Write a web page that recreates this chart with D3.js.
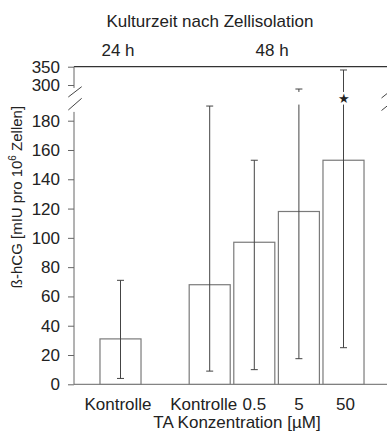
<!DOCTYPE html>
<html>
<head>
<meta charset="utf-8">
<script src="https://cdn.jsdelivr.net/npm/d3@7/dist/d3.min.js"></script>
<style>
  body { margin: 0; background: #fff; }
  svg { display: block; }
  text { font-family: "Liberation Sans", Arial, sans-serif; fill: #222; }
</style>
</head>
<body>
<svg id="chart" width="387" height="439"></svg>
<script>
// ---- data ----
const slotIds = ["24h-Kontrolle", "_gap", "48h-Kontrolle", "48h-0.5", "48h-5", "48h-50"];
const barIds = ["24h-Kontrolle", "48h-Kontrolle", "48h-0.5", "48h-5", "48h-50"];
const barLabels = ["Kontrolle", "Kontrolle", "0.5", "5", "50"];
const barGroups = ["24 h", "48 h", "48 h", "48 h", "48 h"];
const means = [31, 68, 97, 118, 153];
const errLow = [4, 9, 10, 17.5, 25];
const errHigh = [71, 190, 153, 289, 341];
const significant = [false, false, false, false, true];
const groupNames = ["24 h", "48 h"];
const lowerTicks = [0, 20, 40, 60, 80, 100, 120, 140, 160, 180];
const upperTicks = [300, 350];
const title = "Kulturzeit nach Zellisolation";
const xTitle = "TA Konzentration [µM]";

// ---- layout ----
const svg = d3.select("#chart");
const axisX = 74;
const lowerBreak = 191;   // top of lower segment (value)
const upperBreak = 281;   // bottom of upper segment (value)
const fs = "17px";

const x = d3.scaleBand().domain(slotIds).range([98.2, 365.8])
  .paddingInner(0.08).paddingOuter(0.04);
const yLow = d3.scaleLinear().domain([0, 180]).range([384.3, 120.7]);
const yUp = d3.scaleLinear().domain([300, 350]).range([85, 66.7]);

const axisColor = "#666";
const barColor = "#7a7a7a";
const errColor = "#444";

// top line
svg.append("line").attr("x1", axisX).attr("x2", 387)
  .attr("y1", yUp(350)).attr("y2", yUp(350))
  .attr("stroke", "#333").attr("stroke-width", 1.2);

// baseline
svg.append("line").attr("x1", axisX).attr("x2", 387)
  .attr("y1", yLow(0)).attr("y2", yLow(0))
  .attr("stroke", axisColor).attr("stroke-width", 1);

// bars
const bars = means.map((m, i) => ({ id: barIds[i], label: barLabels[i], mean: m, lo: errLow[i], hi: errHigh[i], sig: significant[i] }));

svg.append("g").selectAll("rect").data(bars).join("rect")
  .attr("x", d => x(d.id))
  .attr("width", x.bandwidth())
  .attr("y", d => yLow(d.mean))
  .attr("height", d => yLow(0) - yLow(d.mean))
  .attr("fill", "#fff")
  .attr("stroke", barColor)
  .attr("stroke-width", 1.2);

// error bars
const eg = svg.append("g").attr("stroke", errColor).attr("stroke-width", 1);
bars.forEach(d => {
  const cx = x(d.id) + x.bandwidth() / 2;
  const capW = 3.5;
  eg.append("line").attr("x1", cx - capW).attr("x2", cx + capW)
    .attr("y1", yLow(d.lo)).attr("y2", yLow(d.lo));
  if (d.hi <= lowerBreak) {
    eg.append("line").attr("x1", cx).attr("x2", cx)
      .attr("y1", yLow(d.lo)).attr("y2", yLow(d.hi));
    eg.append("line").attr("x1", cx - capW).attr("x2", cx + capW)
      .attr("y1", yLow(d.hi)).attr("y2", yLow(d.hi));
  } else {
    eg.append("line").attr("x1", cx).attr("x2", cx)
      .attr("y1", yLow(d.lo)).attr("y2", yLow(lowerBreak));
    eg.append("line").attr("x1", cx).attr("x2", cx)
      .attr("y1", yUp(upperBreak)).attr("y2", yUp(d.hi));
    eg.append("line").attr("x1", cx - capW).attr("x2", cx + capW)
      .attr("y1", yUp(d.hi)).attr("y2", yUp(d.hi));
  }
  if (d.sig) {
    svg.append("text").attr("x", cx).attr("y", (yUp(upperBreak) + yLow(lowerBreak)) / 2 + 5)
      .attr("text-anchor", "middle").style("font-size", "13px").style("fill", "#222")
      .text("★");
  }
});

// axes
const lowAxis = d3.axisLeft(yLow).tickValues(lowerTicks).tickSize(6).tickPadding(8);
const upAxis = d3.axisLeft(yUp).tickValues(upperTicks).tickSize(6).tickPadding(8);

function styleAxis(g) {
  g.select(".domain").remove();
  g.selectAll(".tick line").attr("stroke", axisColor);
  g.selectAll(".tick text").style("font-size", fs).style("font-family", "Liberation Sans, Arial, sans-serif").attr("fill", "#222");
}
svg.append("g").attr("transform", `translate(${axisX},0)`).call(lowAxis).call(styleAxis);
svg.append("g").attr("transform", `translate(${axisX},0)`).call(upAxis).call(styleAxis);

// axis spine segments
svg.append("line").attr("x1", axisX).attr("x2", axisX)
  .attr("y1", yLow(0)).attr("y2", yLow(186)).attr("stroke", axisColor);
svg.append("line").attr("x1", axisX).attr("x2", axisX)
  .attr("y1", yUp(350)).attr("y2", yUp(292)).attr("stroke", axisColor);

// break marks
const brk = [[68.3, 97, 81.7, 86.7], [68.3, 110, 81.7, 98.3], [381.5, 98, 389, 92], [381.5, 110.5, 389, 104.5]];
svg.append("g").selectAll("line").data(brk).join("line")
  .attr("x1", d => d[0]).attr("y1", d => d[1]).attr("x2", d => d[2]).attr("y2", d => d[3])
  .attr("stroke", "#444").attr("stroke-width", 1);

// x labels
svg.append("g").selectAll("text").data(bars).join("text")
  .attr("x", (d, i) => x(d.id) + x.bandwidth() / 2 + (i === 1 ? -6 : (i === 0 ? -2.5 : (i === 4 ? 2 : 0))))
  .attr("y", 410)
  .attr("text-anchor", "middle")
  .style("font-size", fs)
  .text(d => d.label);

// group labels
groupNames.forEach(gname => {
  const ids = barIds.filter((id, i) => barGroups[i] === gname);
  const cs = ids.map(id => x(id) + x.bandwidth() / 2);
  const c = d3.mean(cs);
  svg.append("text").attr("x", ids.length > 1 ? c - 4.5 : c - 2.5).attr("y", 56)
    .attr("text-anchor", "middle").style("font-size", fs).text(gname);
});

// title
svg.append("text").attr("x", 210).attr("y", 26.5).attr("text-anchor", "middle")
  .style("font-size", fs).text(title);

// x title
svg.append("text").attr("x", 237).attr("y", 428).attr("text-anchor", "middle")
  .style("font-size", fs).text(xTitle);

// y title
const yt = svg.append("text").attr("transform", "translate(22,197) rotate(-90)")
  .attr("text-anchor", "middle").style("font-size", "15px");
yt.append("tspan").text("ß-hCG [mIU pro 10");
yt.append("tspan").attr("dy", -6).style("font-size", "10px").text("6");
yt.append("tspan").attr("dy", 6).text(" Zellen]");
</script>
</body>
</html>
